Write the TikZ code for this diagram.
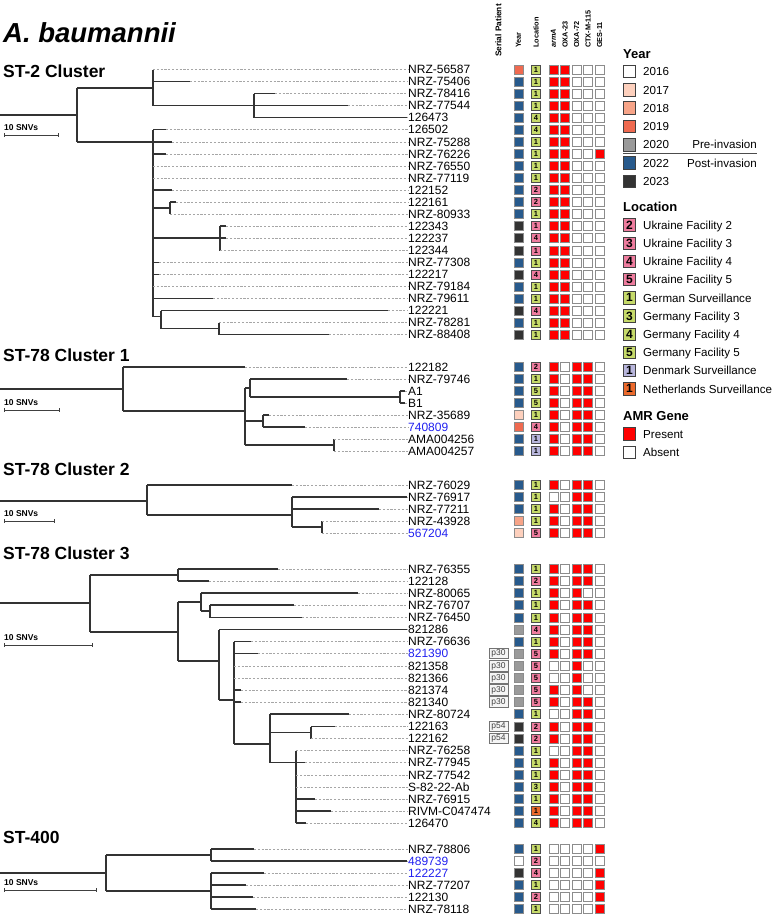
\documentclass[tikz,border=0pt]{standalone}
\usepackage{fontspec}
\setmainfont{Liberation Sans}
\newcommand\fsz[1]{\fontsize{#1}{#1}\selectfont}
\definecolor{yr16}{HTML}{FFFFFF}
\definecolor{yr17}{HTML}{FDD0BD}
\definecolor{yr18}{HTML}{F7A488}
\definecolor{yr19}{HTML}{EF6A50}
\definecolor{yr20}{HTML}{9A9A9A}
\definecolor{yr22}{HTML}{285A8C}
\definecolor{yr23}{HTML}{333333}
\definecolor{locU}{HTML}{EE7C9E}
\definecolor{locG}{HTML}{C6DA6A}
\definecolor{locK}{HTML}{B8B6DC}
\definecolor{locN}{HTML}{EC6A2C}
\definecolor{amr0}{HTML}{FFFFFF}
\definecolor{amr1}{HTML}{FF0000}
\definecolor{lblue}{HTML}{2020F0}
\begin{document}
\begin{tikzpicture}[x=1pt,y=-1pt,
  br/.style={line width=1.2pt, draw=black!80},
  dsh/.style={line width=0.6pt, draw=black!35, dash pattern=on 2.2pt off 1.6pt},
  lbl/.style={anchor=west, inner sep=0pt, text height=8.6pt, text depth=0pt, font=\fsz{12}},
  ctitle/.style={anchor=base west, inner sep=0pt, font=\fsz{17.5}\bfseries},
  sbt/.style={anchor=base west, inner sep=0pt, font=\fsz{8.5}\bfseries},
  sbar/.style={line width=0.9pt, draw=black!75},
  hdr/.style={rotate=90, anchor=west, inner sep=0pt, font=\fsz{7.3}\bfseries},
  yb/.style={minimum size=8.6pt, inner sep=0pt, draw=black!45, line width=0.6pt},
  lb/.style={minimum size=8.6pt, inner sep=0pt, draw=black!70, line width=0.6pt, font=\fsz{7.5}\bfseries},
  ab/.style={minimum size=8.6pt, inner sep=0pt, draw=black!45, line width=0.6pt},
  sp/.style={minimum width=19pt, minimum height=10.5pt, inner sep=0pt, draw=black!55, fill=black!4, line width=0.6pt, font=\fsz{8.5}, text=black!75},
  lgtitle/.style={anchor=base west, inner sep=0pt, font=\fsz{13}\bfseries},
  lgb/.style={minimum size=12.5pt, inner sep=0pt, draw=black!75, line width=0.8pt, font=\fsz{12}\bfseries},
  lgt/.style={anchor=west, inner sep=0pt, text height=8.4pt, text depth=0pt, font=\fsz{11.6}}
]
\useasboundingbox (0,0) rectangle (778,916);
\newcommand\lf[6][black]{%
  \node[lbl,text=#1] (#6) at (408,#4) {#5};
  \draw[br] (#2,#4) -- (#3,#4);
  \draw[dsh] (#3,#4) -- (#6.west);
}
\newcommand\sbarr[3]{%
  \node[sbt] (#3) at (4,#2-4.5) {10 SNVs};
  \draw[sbar] (4,#2) -- (#1,#2) (4,#2-1.8) -- (4,#2+1.8) (#1,#2-1.8) -- (#1,#2+1.8);
}
% titles
\node[anchor=base west, inner sep=0pt, font=\fsz{27.5}\bfseries\itshape] (title) at (3,42) {A. baumannii};
\node[ctitle] (t1) at (3,77) {ST-2 Cluster};
\node[ctitle] (t2) at (3,361) {ST-78 Cluster 1};
\node[ctitle] (t3) at (3,475) {ST-78 Cluster 2};
\node[ctitle] (t4) at (3,559) {ST-78 Cluster 3};
\node[ctitle] (t5) at (3,843) {ST-400};
% scale bars
\sbarr{58}{135}{sb1}
\sbarr{59}{410}{sb2}
\sbarr{54}{521}{sb3}
\sbarr{92}{645}{sb4}
\sbarr{96}{890}{sb5}
% ---------- ST-2 tree
\draw[br] (0,115) -- (77,115) (77,88) -- (77,142);
\draw[br] (77,88) -- (153,88) (153,69.5) -- (153,105.5);
\lf{153}{153}{69.5}{NRZ-56587}{L1}
\lf{153}{190}{81.5}{NRZ-75406}{L2}
\draw[br] (153,105.5) -- (254,105.5) (254,93.5) -- (254,117.5);
\lf{254}{275}{93.5}{NRZ-78416}{L3}
\lf{254}{348}{105.5}{NRZ-77544}{L4}
\lf{254}{407}{117.5}{126473}{L5}
\draw[br] (77,142) -- (153,142) (153,129.5) -- (153,316.5);
\lf{153}{166}{129.5}{126502}{L6}
\lf{153}{172}{142}{NRZ-75288}{L7}
\lf{153}{166}{154}{NRZ-76226}{L8}
\lf{153}{153}{166}{NRZ-76550}{L9}
\lf{153}{153}{178}{NRZ-77119}{L10}
\lf{153}{172}{190}{122152}{L11}
\draw[br] (153,208) -- (170,208) (170,202) -- (170,214);
\lf{170}{176}{202}{122161}{L12}
\lf{170}{170}{214}{NRZ-80933}{L13}
\draw[br] (153,238) -- (220,238) (220,226) -- (220,250.5);
\lf{220}{226}{226}{122343}{L14}
\lf{220}{226}{238}{122237}{L15}
\lf{220}{220}{250.5}{122344}{L16}
\lf{153}{159}{262.5}{NRZ-77308}{L17}
\lf{153}{159}{274.5}{122217}{L18}
\lf{153}{153}{286.5}{NRZ-79184}{L19}
\lf{153}{213}{298.5}{NRZ-79611}{L20}
\draw[br] (153,316.5) -- (161,316.5) (161,310.5) -- (161,328.5);
\lf{161}{388}{310.5}{122221}{L21}
\draw[br] (161,328.5) -- (219,328.5) (219,322.5) -- (219,334.5);
\lf{219}{219}{322.5}{NRZ-78281}{L22}
\lf{219}{329}{334.5}{NRZ-88408}{L23}
% ---------- ST-78 cluster 1
\draw[br] (0,389) -- (123,389) (123,367) -- (123,411);
\lf{123}{245}{367}{122182}{M1}
\draw[br] (123,411) -- (245,411) (245,388) -- (245,445);
\draw[br] (245,388) -- (250,388) (250,379) -- (250,397);
\lf{250}{347}{379}{NRZ-79746}{M2}
\draw[br] (250,397) -- (400,397) (400,391) -- (400,403);
\lf{400}{405}{391}{A1}{M3}
\lf{400}{405}{403}{B1}{M4}
\draw[br] (245,421) -- (263,421) (263,415) -- (263,427);
\lf{263}{269}{415}{NRZ-35689}{M5}
\lf[lblue]{263}{305}{427}{740809}{M6}
\draw[br] (245,445) -- (334,445) (334,439) -- (334,451);
\lf{334}{334}{439}{AMA004256}{M7}
\lf{334}{334}{451}{AMA004257}{M8}
% ---------- ST-78 cluster 2
\draw[br] (0,501) -- (147,501) (147,485) -- (147,515);
\lf{147}{292}{485}{NRZ-76029}{N1}
\draw[br] (147,515) -- (292,515) (292,497) -- (292,527);
\lf{292}{407}{497}{NRZ-76917}{N2}
\lf{292}{379}{509}{NRZ-77211}{N3}
\draw[br] (292,527) -- (322,527) (322,521) -- (322,533);
\lf{322}{322}{521}{NRZ-43928}{N4}
\lf[lblue]{322}{322}{533}{567204}{N5}
% ---------- ST-78 cluster 3
\draw[br] (0,603) -- (90,603) (90,575) -- (90,632);
\draw[br] (90,575) -- (178,575) (178,569) -- (178,581);
\lf{178}{278}{569}{NRZ-76355}{P1}
\lf{178}{209}{581}{122128}{P2}
\draw[br] (90,632) -- (178,632) (178,602) -- (178,661);
\draw[br] (178,602) -- (201,602) (201,593) -- (201,611);
\lf{201}{358}{593}{NRZ-80065}{P3}
\draw[br] (201,611) -- (210,611) (210,605) -- (210,617.5);
\lf{210}{294}{605}{NRZ-76707}{P4}
\lf{210}{302}{617.5}{NRZ-76450}{P5}
\draw[br] (178,661) -- (219,661) (219,629.5) -- (219,700);
\lf{219}{407}{629.5}{821286}{P6}
\draw[br] (219,700) -- (234,700) (234,641.5) -- (234,744);
\lf{234}{251}{641.5}{NRZ-76636}{P7}
\lf[lblue]{234}{258}{653.5}{821390}{P8}
\lf{234}{234}{666}{821358}{P9}
\lf{234}{234}{678}{821366}{P10}
\lf{234}{241}{690}{821374}{P11}
\lf{234}{241}{702}{821340}{P12}
\draw[br] (234,744) -- (270,744) (270,714) -- (270,762.5);
\lf{270}{349}{714}{NRZ-80724}{P13}
\draw[br] (270,732.5) -- (311,732.5) (311,726.5) -- (311,738.5);
\lf{311}{335}{726.5}{122163}{P14}
\lf{311}{311}{738.5}{122162}{P15}
\draw[br] (270,762.5) -- (296,762.5) (296,750.5) -- (296,823);
\lf{296}{296}{750.5}{NRZ-76258}{P16}
\lf{296}{305}{762.5}{NRZ-77945}{P17}
\lf{296}{296}{775}{NRZ-77542}{P18}
\lf{296}{296}{787}{S-82-22-Ab}{P19}
\lf{296}{315}{799}{NRZ-76915}{P20}
\lf{296}{331}{811}{RIVM-C047474}{P21}
\lf{296}{306}{823}{126470}{P22}
% ---------- ST-400
\draw[br] (0,873) -- (106,873) (106,855) -- (106,891);
\draw[br] (106,855) -- (211,855) (211,849) -- (211,861);
\lf{211}{254}{849}{NRZ-78806}{Q1}
\lf[lblue]{211}{407}{861}{489739}{Q2}
\draw[br] (106,891) -- (211,891) (211,873) -- (211,909);
\lf[lblue]{211}{264}{873}{122227}{Q3}
\lf{211}{246}{885}{NRZ-77207}{Q4}
\lf{211}{253}{897}{122130}{Q5}
\lf{211}{256}{909}{NRZ-78118}{Q6}
% ---------- column headers
\node[hdr, font=\fsz{8.3}\bfseries] (hS) at (498.5,57) {Serial Patient};
\node[hdr] (hY) at (518.5,48) {Year};
\node[hdr] (hL) at (536,48) {Location};
\node[hdr, font=\fsz{7.3}\bfseries\itshape] (hA) at (553.5,48) {armA};
\node[hdr] (hB) at (565,48) {OXA-23};
\node[hdr] (hC) at (576.5,48) {OXA-72};
\node[hdr] (hD) at (588,48) {CTX-M-115};
\node[hdr] (hE) at (599.5,48) {GES-11};
% ---------- serial patient boxes
\node[sp] (sp1) at (498.5,653.5) {p30};
\node[sp] (sp2) at (498.5,666) {p30};
\node[sp] (sp3) at (498.5,678) {p30};
\node[sp] (sp4) at (498.5,690) {p30};
\node[sp] (sp5) at (498.5,702) {p30};
\node[sp] (sp6) at (498.5,726.5) {p54};
\node[sp] (sp7) at (498.5,738.5) {p54};
% ---------- matrix
\foreach \y/\yr/\lt/\ln/\a/\b/\c/\d/\e [count=\i] in {
69.5/19/G/1/1/1/0/0/0, 81.5/22/G/1/1/1/0/0/0, 93.5/22/G/1/1/1/0/0/0, 105.5/22/G/1/1/1/0/0/0,
117.5/22/G/4/1/1/0/0/0, 129.5/22/G/4/1/1/0/0/0, 142/22/G/1/1/1/0/0/0, 154/22/G/1/1/1/0/0/1,
166/22/G/1/1/1/0/0/0, 178/22/G/1/1/1/0/0/0, 190/22/U/2/1/1/0/0/0, 202/22/U/2/1/1/0/0/0,
214/22/G/1/1/1/0/0/0, 226/23/U/1/1/1/0/0/0, 238/23/U/4/1/1/0/0/0, 250.5/23/U/1/1/1/0/0/0,
262.5/22/G/1/1/1/0/0/0, 274.5/23/U/4/1/1/0/0/0, 286.5/22/G/1/1/1/0/0/0, 298.5/22/G/1/1/1/0/0/0,
310.5/23/U/4/1/1/0/0/0, 322.5/22/G/1/1/1/0/0/0, 334.5/23/G/1/1/1/0/0/0,
367/22/U/2/1/0/1/1/0, 379/22/G/1/1/0/1/1/0, 391/22/G/5/1/0/1/1/0, 403/22/G/5/1/0/1/1/0,
415/17/G/1/1/0/1/1/0, 427/19/U/4/1/0/1/1/0, 439/22/K/1/1/0/1/1/0, 451/22/K/1/1/0/1/1/0,
485/22/G/1/1/0/1/1/0, 497/22/G/1/0/0/1/1/0, 509/22/G/1/1/0/1/1/0, 521/18/G/1/1/0/1/1/0, 533/17/U/5/1/0/1/1/0,
569/22/G/1/1/0/1/1/0, 581/22/U/2/1/0/1/1/0, 593/22/G/1/1/0/1/0/0, 605/22/G/1/1/0/1/1/0,
617.5/22/G/1/1/0/1/1/0, 629.5/20/U/4/1/0/1/1/0, 641.5/22/G/1/1/0/1/1/0, 653.5/20/U/5/1/0/1/1/0,
666/20/U/5/0/0/1/0/0, 678/20/U/5/0/0/1/0/0, 690/20/U/5/1/0/1/0/0, 702/20/U/5/1/0/1/1/0,
714/22/G/1/0/0/1/1/0, 726.5/23/U/2/1/0/1/1/0, 738.5/23/U/2/1/0/1/1/0, 750.5/22/G/1/0/0/1/1/0,
762.5/22/G/1/1/0/1/1/0, 775/22/G/1/1/0/1/1/0, 787/22/G/3/1/0/1/1/0, 799/22/G/1/1/0/1/1/0,
811/22/N/1/1/0/1/1/0, 823/22/G/4/1/0/1/1/0,
849/22/G/1/0/0/0/0/1, 861/16/U/2/0/0/0/0/0, 873/23/U/4/0/0/0/0/1, 885/22/G/1/0/0/0/0/1,
897/22/U/2/0/0/0/0/1, 909/22/G/1/0/0/0/0/1}{
  \node[yb, fill=yr\yr] (my\i) at (518.5,\y) {};
  \node[lb, fill=loc\lt] (ml\i) at (536,\y) {\ln};
  \node[ab, fill=amr\a] (ma\i) at (553.5,\y) {};
  \node[ab, fill=amr\b] (mb\i) at (565,\y) {};
  \node[ab, fill=amr\c] (mc\i) at (576.5,\y) {};
  \node[ab, fill=amr\d] (md\i) at (588,\y) {};
  \node[ab, fill=amr\e] (me\i) at (599.5,\y) {};
}
% ---------- legend: Year
\node[lgtitle] (lgY) at (623,58) {Year};
\foreach \yy/\c/\t [count=\i] in {71.5/yr16/2016, 89.8/yr17/2017, 108.1/yr18/2018, 126.4/yr19/2019, 144.7/yr20/2020, 163/yr22/2022, 181.3/yr23/2023}{
  \node[lgb, fill=\c] (ly\i) at (629.5,\yy) {};
  \node[lgt] (lyt\i) at (643,\yy) {\t};
}
\node[lgt, anchor=east] (pre) at (757,144.7) {Pre-invasion};
\node[lgt, anchor=east] (post) at (757,163) {Post-invasion};
\coordinate (divL) at (623,153.8);
\coordinate (divR) at (757,153.8);
\draw[black!70, line width=0.9pt] (divL) -- (divR);
% ---------- legend: Location
\node[lgtitle] (lgL) at (623,211) {Location};
\foreach \yy/\c/\n/\t [count=\i] in {225/locU/2/Ukraine Facility 2, 243.2/locU/3/Ukraine Facility 3, 261.4/locU/4/Ukraine Facility 4, 279.6/locU/5/Ukraine Facility 5, 297.8/locG/1/German Surveillance, 316/locG/3/Germany Facility 3, 334.2/locG/4/Germany Facility 4, 352.4/locG/5/Germany Facility 5, 370.6/locK/1/Denmark Surveillance, 388.8/locN/1/Netherlands Surveillance}{
  \node[lgb, fill=\c] (ll\i) at (629.5,\yy) {\n};
  \node[lgt] (llt\i) at (643,\yy) {\t};
}
% ---------- legend: AMR
\node[lgtitle] (lgA) at (623,420) {AMR Gene};
\node[lgb, fill=amr1] (la1) at (629.5,434) {};
\node[lgt] (lat1) at (643,434) {Present};
\node[lgb, fill=amr0] (la2) at (629.5,452.3) {};
\node[lgt] (lat2) at (643,452.3) {Absent};
\end{tikzpicture}
\end{document}
